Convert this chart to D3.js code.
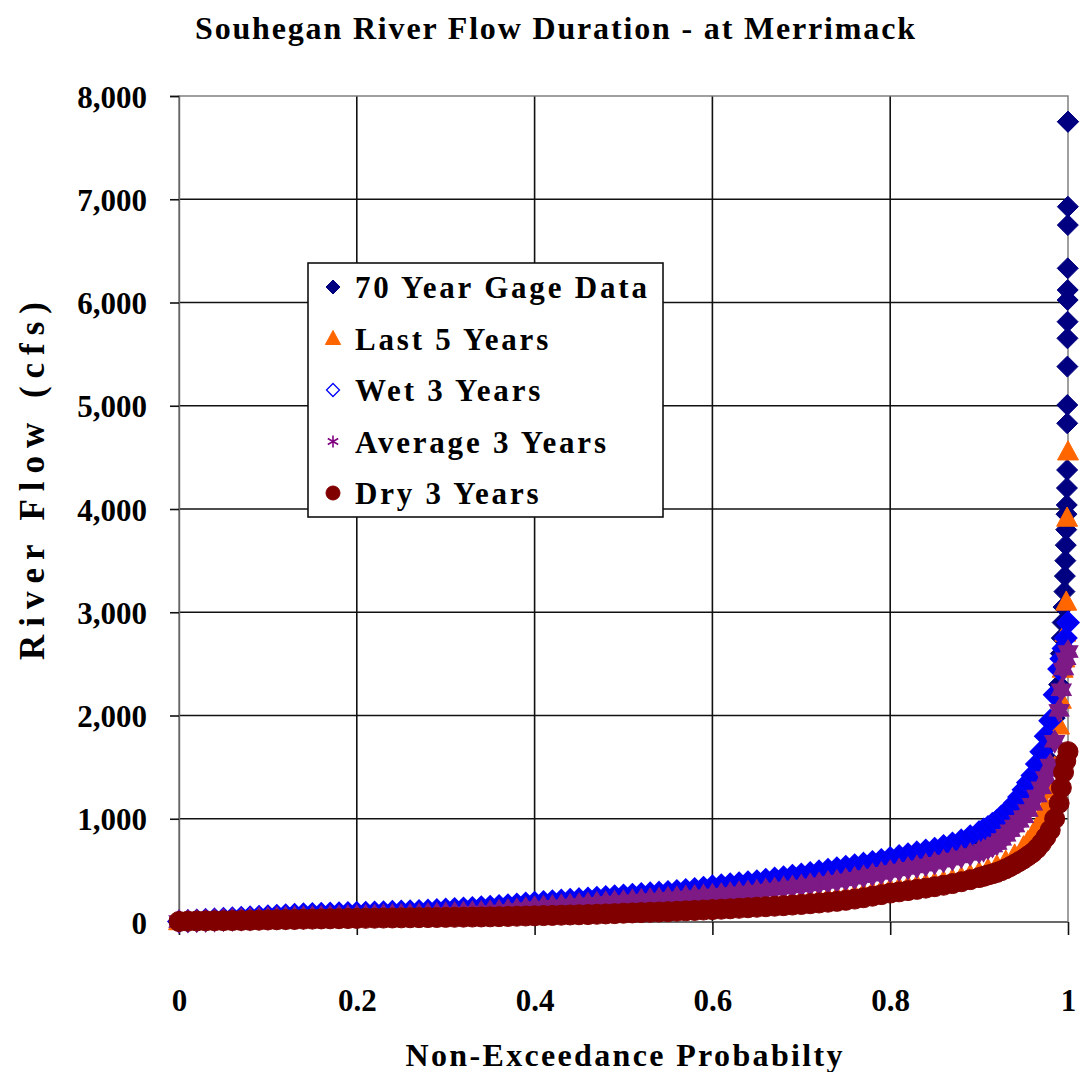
<!DOCTYPE html>
<html>
<head>
<meta charset="utf-8">
<script src="https://cdn.jsdelivr.net/npm/d3@7"></script>
<style>
  html, body { margin: 0; padding: 0; background: #ffffff; }
  svg { display: block; }
  text { font-family: "Liberation Serif", "Times New Roman", serif; font-weight: bold; fill: #000; }
</style>
</head>
<body>
<svg id="chart" width="1081" height="1072"></svg>
<script>
// ---------- DATA ----------
const chartTitle = "Souhegan River Flow Duration - at Merrimack";
const xAxisTitle = "Non-Exceedance Probabilty";
const yAxisTitle = "River Flow (cfs)";
const xTickValues = [0, 0.2, 0.4, 0.6, 0.8, 1];
const xTickLabels = ["0", "0.2", "0.4", "0.6", "0.8", "1"];
const yTickValues = [0, 1000, 2000, 3000, 4000, 5000, 6000, 7000, 8000];
const yTickLabels = ["0", "1,000", "2,000", "3,000", "4,000", "5,000", "6,000", "7,000", "8,000"];
const seriesNames = ["70 Year Gage Data", "Last 5 Years", "Wet 3 Years", "Average 3 Years", "Dry 3 Years"];

// shared body probabilities 0.00 .. 0.90
const bodyProb = [
  0.00,0.01,0.02,0.03,0.04,0.05,0.06,0.07,0.08,0.09,
  0.10,0.11,0.12,0.13,0.14,0.15,0.16,0.17,0.18,0.19,
  0.20,0.21,0.22,0.23,0.24,0.25,0.26,0.27,0.28,0.29,
  0.30,0.31,0.32,0.33,0.34,0.35,0.36,0.37,0.38,0.39,
  0.40,0.41,0.42,0.43,0.44,0.45,0.46,0.47,0.48,0.49,
  0.50,0.51,0.52,0.53,0.54,0.55,0.56,0.57,0.58,0.59,
  0.60,0.61,0.62,0.63,0.64,0.65,0.66,0.67,0.68,0.69,
  0.70,0.71,0.72,0.73,0.74,0.75,0.76,0.77,0.78,0.79,
  0.80,0.81,0.82,0.83,0.84,0.85,0.86,0.87,0.88,0.89,0.90
];

// 70 Year Gage Data
const gageBodyFlow = [
  5,9,13,17,21,25,29,33,37,41,
  45,48,51,54,57,60,62,64,66,68,
  70,72,74,77,80,83,86,89,92,96,
  100,105,110,115,120,125,131,137,145,154,
  163,170,176,182,189,195,202,208,215,222,
  228,235,241,248,254,261,268,276,284,293,
  303,312,321,330,339,348,359,371,382,394,
  405,418,431,445,458,472,488,503,518,536,
  555,572,588,605,622,640,662,685,711,742,775
];
const gageTailProb = [0.91,0.92,0.93,0.94,0.95,0.955,0.96,0.965,0.97,0.975,0.98,0.985,0.99,0.991,0.992,0.993,0.994,0.995,0.996,0.9965,0.997,0.9975,0.998,0.9983,0.9986,0.9988,0.999,0.9991,0.9992,0.9993,0.9994,0.9995,0.9996,0.99965,0.9997,0.9998,0.99985,0.9999,1.0];
const gageTailFlow = [818,870,950,1040,1150,1215,1280,1375,1475,1600,1735,1975,2300,2450,2600,2750,2900,3050,3200,3350,3500,3650,3800,3950,4039,4203,4378,4830,5007,5379,5653,5814,6024,6121,6331,6750,6928,7751,7751];

// Last 5 Years
const last5BodyFlow = [
  5,8,10,12,14,16,18,20,22,24,
  26,28,30,32,34,36,38,40,41,42,
  43,44,45,46,48,50,52,54,56,58,
  60,62,64,66,68,70,72,74,76,78,
  80,83,86,89,92,95,98,101,104,107,
  110,114,118,122,126,130,134,138,142,146,
  150,155,160,166,172,178,184,190,197,204,
  210,218,226,234,242,250,262,275,290,305,
  320,332,344,356,368,380,395,412,432,455,480
];
const last5TailProb = [0.91,0.92,0.93,0.94,0.95,0.955,0.96,0.965,0.97,0.975,0.98,0.985,0.99,0.992,0.994,0.996,0.997,0.998,0.999,1.0];
const last5TailFlow = [510,545,590,650,730,780,840,910,1000,1120,1280,1500,1900,2150,2450,2550,2800,3100,3913,4555];

// Wet 3 Years
const wetBodyFlow = [
  5,10,15,20,25,30,35,40,45,50,
  55,60,65,70,75,78,80,82,84,86,
  88,90,92,95,98,101,104,107,110,115,
  120,125,130,136,142,148,155,162,170,178,
  186,193,200,207,214,221,228,235,242,249,
  256,263,270,277,284,291,300,310,320,332,
  345,355,365,375,385,395,408,421,434,447,
  460,475,490,505,520,535,550,565,580,600,
  620,638,656,674,692,710,735,760,790,830,870
];
const wetTailProb = [0.905,0.91,0.915,0.92,0.925,0.93,0.935,0.94,0.945,0.95,0.955,0.96,0.965,0.97,0.975,0.98,0.985,0.99,0.9925,0.995,0.9975,1.0];
const wetTailFlow = [895,920,950,980,1020,1060,1100,1150,1210,1280,1350,1420,1530,1650,1800,1950,2200,2450,2550,2650,2750,2900];

// Average 3 Years
const avgBodyFlow = [
  5,8,11,14,17,20,23,26,29,32,
  35,37,39,41,43,45,47,49,51,53,
  55,57,59,61,63,65,67,70,73,76,
  80,84,88,92,96,100,106,112,120,130,
  140,146,152,158,164,170,176,182,188,194,
  200,206,212,218,224,230,236,242,248,254,
  261,268,276,284,292,300,310,320,330,340,
  350,361,372,384,396,410,425,440,456,472,
  490,505,520,535,552,570,590,610,632,655,680
];
const avgTailProb = [0.905,0.91,0.915,0.92,0.925,0.93,0.935,0.94,0.945,0.95,0.955,0.96,0.965,0.97,0.975,0.98,0.985,0.99,0.9925,0.995,0.9975,1.0];
const avgTailFlow = [695,715,735,760,800,840,885,930,975,1020,1080,1140,1220,1300,1400,1520,1750,2050,2250,2450,2550,2620];

// Dry 3 Years
const dryBodyFlow = [
  5,8,10,11,12,13,14,15,16,18,
  20,22,24,25,27,28,30,31,32,34,
  35,36,37,38,39,40,41,42,43,44,
  45,46,47,48,49,50,52,54,56,58,
  60,62,64,66,68,70,72,75,78,81,
  85,88,91,94,97,100,104,108,112,116,
  120,124,128,133,138,143,148,153,158,164,
  170,177,184,192,200,210,222,235,250,265,
  280,292,304,316,328,342,356,372,390,410,430
];
const dryTailProb = [0.905,0.91,0.915,0.92,0.925,0.93,0.935,0.94,0.945,0.95,0.955,0.96,0.965,0.97,0.975,0.98,0.985,0.99,0.9925,0.995,0.9975,1.0];
const dryTailFlow = [442,455,467,480,497,515,537,560,585,610,640,670,710,760,820,890,1000,1150,1300,1450,1560,1650];

// ---------- CHART ----------
const svg = d3.select("#chart");
const W = 1081, H = 1072;
const plot = { left: 179, right: 1068, top: 96, bottom: 922 };

const x = d3.scaleLinear().domain([0, 1]).range([plot.left, plot.right]);
const y = d3.scaleLinear().domain([0, 8000]).range([plot.bottom, plot.top]);

svg.append("rect").attr("width", W).attr("height", H).attr("fill", "#fff");

// Title
svg.append("text")
  .attr("x", 555).attr("y", 39)
  .attr("text-anchor", "middle")
  .attr("font-size", 32)
  .attr("textLength", 720).attr("lengthAdjust", "spacing")
  .text(chartTitle);

// Gridlines
const grid = svg.append("g");
grid.selectAll("line.h").data(yTickValues.filter(v => v < 8000)).enter().append("line")
  .attr("x1", plot.left).attr("x2", plot.right)
  .attr("y1", d => y(d)).attr("y2", d => y(d))
  .attr("stroke", "#111").attr("stroke-width", 1.6);
grid.selectAll("line.v").data(xTickValues.filter(v => v > 0 && v < 1)).enter().append("line")
  .attr("y1", plot.top).attr("y2", plot.bottom)
  .attr("x1", d => x(d)).attr("x2", d => x(d))
  .attr("stroke", "#111").attr("stroke-width", 1.6);
// plot border (top/right grey)
svg.append("rect")
  .attr("x", plot.left).attr("y", plot.top)
  .attr("width", plot.right - plot.left).attr("height", plot.bottom - plot.top)
  .attr("fill", "none").attr("stroke", "#777").attr("stroke-width", 1.4);

// Axes
const yAxis = d3.axisLeft(y).tickValues(yTickValues).tickSize(9)
  .tickFormat((d, i) => yTickLabels[i]);
const gy = svg.append("g").attr("transform", `translate(${plot.left},0)`).call(yAxis);
gy.select(".domain").attr("stroke", "#666").attr("stroke-width", 1.4);
gy.selectAll(".tick line").attr("stroke", "#111").attr("stroke-width", 1.6);
gy.selectAll(".tick text")
  .attr("x", -32).attr("dy", "0.36em")
  .attr("font-family", "'Liberation Serif', serif").attr("font-weight", "bold")
  .attr("font-size", 31).attr("fill", "#000");

const xAxis = d3.axisBottom(x).tickValues(xTickValues).tickSize(13)
  .tickFormat((d, i) => xTickLabels[i]);
const gx = svg.append("g").attr("transform", `translate(0,${plot.bottom})`).call(xAxis);
gx.select(".domain").remove();
gx.selectAll(".tick line").attr("stroke", "#111").attr("stroke-width", 1.6);
gx.selectAll(".tick text")
  .attr("y", 89).attr("dy", 0)
  .attr("font-family", "'Liberation Serif', serif").attr("font-weight", "bold")
  .attr("font-size", 31).attr("fill", "#000");

// Axis titles
svg.append("text")
  .attr("x", 624).attr("y", 1066)
  .attr("text-anchor", "middle").attr("font-size", 32)
  .attr("textLength", 437).attr("lengthAdjust", "spacing")
  .text(xAxisTitle);
svg.append("text")
  .attr("transform", "translate(44,481) rotate(-90)")
  .attr("text-anchor", "middle").attr("font-size", 35)
  .attr("textLength", 358).attr("lengthAdjust", "spacing")
  .text(yAxisTitle);

// Marker shapes
const diamondPath = r => `M0,${-r}L${r},0L0,${r}L${-r},0Z`;
const trianglePath = r => `M0,${-r}L${r * 0.95},${r * 0.75}L${-r * 0.95},${r * 0.75}Z`;
const starPath = r => {
  const pts = [];
  for (let k = 0; k < 12; k++) {
    const a = -Math.PI / 2 + k * Math.PI / 6;
    const rr = k % 2 === 0 ? r : r * 0.6;
    pts.push([rr * Math.cos(a), rr * Math.sin(a)]);
  }
  return "M" + pts.map(p => p.join(",")).join("L") + "Z";
};
const asteriskPath = r => {
  const t = r / 2, u = t * Math.sqrt(3);
  return `M0,${r}L0,${-r}M${-u},${-t}L${u},${t}M${-u},${t}L${u},${-t}`;
};

function toPoints(bodyFlow, tailProb, tailFlow) {
  const pts = bodyProb.map((p, i) => ({ p, q: bodyFlow[i] }));
  tailProb.forEach((p, i) => pts.push({ p, q: tailFlow[i] }));
  return pts;
}

const series = [
  { name: seriesNames[0], pts: toPoints(gageBodyFlow, gageTailProb, gageTailFlow),
    path: diamondPath(10.5), fill: "#000080", stroke: "#000080", sw: 1 },
  { name: seriesNames[1], pts: toPoints(last5BodyFlow, last5TailProb, last5TailFlow),
    path: trianglePath(11), fill: "#FF6600", stroke: "#FF6600", sw: 1 },
  { name: seriesNames[2], pts: toPoints(wetBodyFlow, wetTailProb, wetTailFlow),
    path: diamondPath(11), fill: "#0000F0", stroke: "#0000FF", sw: 1.5 },
  { name: seriesNames[3], pts: toPoints(avgBodyFlow, avgTailProb, avgTailFlow),
    path: starPath(11), fill: "#7E1A86", stroke: "#7E1A86", sw: 1.5 },
  { name: seriesNames[4], pts: toPoints(dryBodyFlow, dryTailProb, dryTailFlow),
    path: d3.symbol(d3.symbolCircle, Math.PI * 10 * 10)(), fill: "#800000", stroke: "#800000", sw: 1 }
];

const marks = svg.append("g");
series.forEach(s => {
  marks.append("g").selectAll("path").data(s.pts).enter().append("path")
    .attr("d", s.path)
    .attr("transform", d => `translate(${x(d.p)},${y(d.q)})`)
    .attr("fill", s.fill).attr("stroke", s.stroke).attr("stroke-width", s.sw);
});

// Legend
const legend = svg.append("g");
legend.append("rect")
  .attr("x", 308).attr("y", 263).attr("width", 355).attr("height", 254)
  .attr("fill", "#fff").attr("stroke", "#111").attr("stroke-width", 1.6);
const legendMarkers = [
  { path: diamondPath(7), fill: "#000080", stroke: "#000080", sw: 1 },
  { path: trianglePath(8), fill: "#FF6600", stroke: "#FF6600", sw: 1 },
  { path: diamondPath(6.5), fill: "none", stroke: "#0000FF", sw: 1.3 },
  { path: asteriskPath(6), fill: "none", stroke: "#800080", sw: 1.6 },
  { path: d3.symbol(d3.symbolCircle, Math.PI * 7 * 7)(), fill: "#800000", stroke: "#800000", sw: 1 }
];
seriesNames.forEach((name, i) => {
  const cy = 287 + i * 51.5;
  const m = legendMarkers[i];
  legend.append("path").attr("d", m.path)
    .attr("transform", `translate(333,${cy})`)
    .attr("fill", m.fill).attr("stroke", m.stroke).attr("stroke-width", m.sw);
  legend.append("text")
    .attr("x", 355).attr("y", cy + 11)
    .attr("font-size", 31).attr("letter-spacing", 2.8)
    .text(name);
});
</script>
</body>
</html>
